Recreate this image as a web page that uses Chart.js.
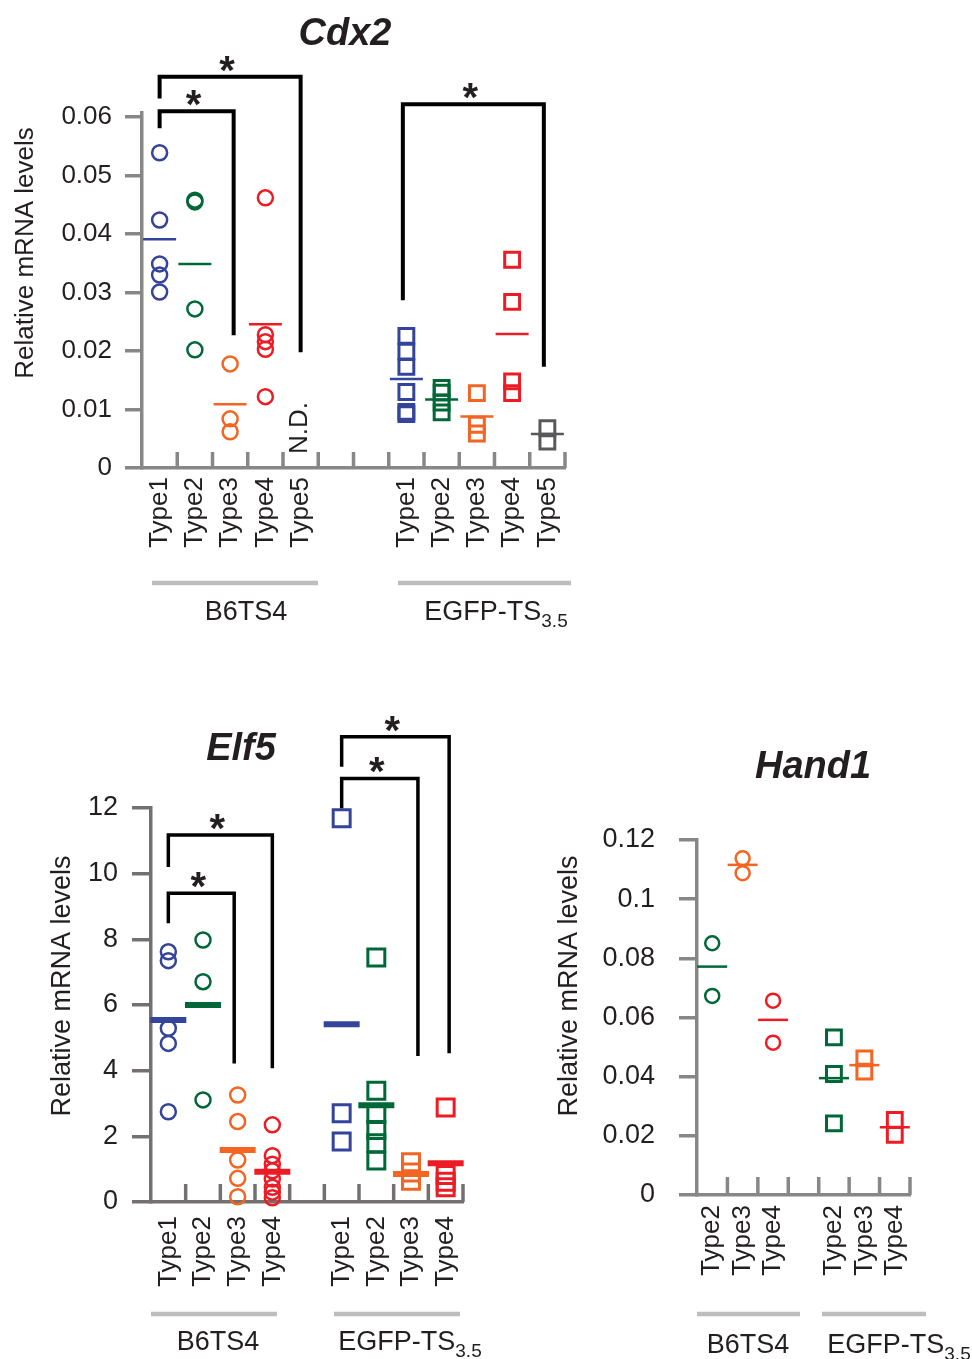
<!DOCTYPE html>
<html>
<head>
<meta charset="utf-8">
<script src="https://cdn.jsdelivr.net/npm/chart.js@4.4.1/dist/chart.umd.min.js"></script>
<style>
  html, body { margin: 0; padding: 0; background: #fff; }
  body { width: 972px; height: 1359px; position: relative; overflow: hidden; }
  canvas { position: absolute; }
  #cdx2 { left: 0; top: 0; }
  #elf5 { left: 0; top: 660px; }
  #hand1 { left: 520px; top: 660px; }
</style>
</head>
<body>
<canvas id="cdx2" width="972" height="660"></canvas>
<canvas id="elf5" width="520" height="699"></canvas>
<canvas id="hand1" width="452" height="699"></canvas>
<script>
const TEXT = '#231f20';
const FONT = "'Liberation Sans', Arial, Helvetica, sans-serif";
Chart.defaults.font.family = FONT;
Chart.defaults.color = TEXT;

const typeColors = { Type1: '#33449a', Type2: '#006838', Type3: '#f26522', Type4: '#ed1c24', Type5: '#58595b' };
const groupNames = ['B6TS4', 'EGFP-TS'];
const groupSubs = ['', '3.5'];
const yTitle = 'Relative mRNA levels';

// Cdx2
const cdx2Slots = ['Type1', 'Type2', 'Type3', 'Type4', 'Type5', '', '', 'Type1', 'Type2', 'Type3', 'Type4', 'Type5'];
const cdx2GroupStart = [0, 7];
const cdx2YTicks = [0, 0.01, 0.02, 0.03, 0.04, 0.05, 0.06];
const cdx2B6 = [
  [0.0539, 0.0424, 0.0349, 0.0330, 0.0301],
  [0.0458, 0.0455, 0.0272, 0.0202],
  [0.0178, 0.0084, 0.0062],
  [0.0462, 0.0228, 0.0216, 0.0203, 0.0122],
  []
];
const cdx2B6Means = [0.0391, 0.0349, 0.0109, 0.0246, null];
const cdx2Egfp = [
  [0.0226, 0.0199, 0.0173, 0.0130, 0.0096, 0.0092],
  [0.0137, 0.0129, 0.0112, 0.0095],
  [0.0128, 0.0074, 0.0059],
  [0.0356, 0.0284, 0.0148, 0.0128],
  [0.0068, 0.0045]
];
const cdx2EgfpMeans = [0.0152, 0.0117, 0.0088, 0.0229, 0.0058];
// [left slot, right slot, top, left end, right end]
const cdx2Brackets = [[0, 4, 0.0669, 0.0632, 0.0198], [0, 2.1, 0.0610, 0.0581, 0.0227], [6.9, 10.9, 0.0622, 0.0287, 0.0173]];

// Elf5
const elf5Slots = ['Type1', 'Type2', 'Type3', 'Type4', '', 'Type1', 'Type2', 'Type3', 'Type4'];
const elf5GroupStart = [0, 5];
const elf5YTicks = [0, 2, 4, 6, 8, 10, 12];
const elf5B6 = [
  [7.62, 7.35, 5.29, 4.83, 2.75],
  [7.98, 6.71, 3.11],
  [3.26, 2.45, 1.28, 0.72, 0.16],
  [2.35, 1.41, 1.15, 0.95, 0.70, 0.45, 0.30, 0.13]
];
const elf5B6Means = [5.54, 6.0, 1.58, 0.92];
const elf5Egfp = [
  [11.69, 2.70, 1.84],
  [7.45, 3.39, 2.68, 2.19, 1.79, 1.26],
  [1.21, 0.90, 0.65],
  [2.88, 0.82, 0.62, 0.45]
];
const elf5EgfpMeans = [5.41, 2.95, 0.85, 1.18];
const elf5Brackets = [[0, 3, 11.18, 10.2, 4.07], [0, 1.9, 9.40, 8.49, 4.22], [5, 8.1, 14.17, 13.26, 4.53], [5, 7.2, 12.9, 11.99, 4.45]];

// Hand1
const hand1Slots = ['Type2', 'Type3', 'Type4', '', 'Type2', 'Type3', 'Type4'];
const hand1GroupStart = [0, 4];
const hand1YTicks = [0, 0.02, 0.04, 0.06, 0.08, 0.1, 0.12];
const hand1B6 = [[0.0851, 0.0673], [0.1138, 0.1088], [0.0657, 0.0515]];
const hand1B6Means = [0.0772, 0.1116, 0.0592];
const hand1Egfp = [[0.0533, 0.0409, 0.0242], [0.0462, 0.0417], [0.0254, 0.0203]];
const hand1EgfpMeans = [0.0395, 0.0439, 0.0229];

// one scatter set per type plus one short line for its mean
function seriesFor(values, means, start, slots, look) {
  const sets = [];
  values.forEach((vals, i) => {
    const color = typeColors[slots[start + i]];
    sets.push({
      data: vals.map(v => ({ x: start + i, y: v })),
      pointStyle: look.style, pointRadius: look.radius, pointBorderWidth: look.border,
      pointBorderColor: color, pointBackgroundColor: 'rgba(0,0,0,0)', clip: false
    });
    if (means[i] !== null) {
      sets.push({
        data: [{ x: start + i, y: means[i] }],
        pointStyle: 'line', pointRadius: look.meanRadius, pointBorderWidth: look.meanWidth,
        pointBorderColor: color, clip: false
      });
    }
  });
  return sets;
}

const figures = {};

const figurePlugin = {
  id: 'figure',
  afterDraw(chart) {
    const o = figures[chart.canvas.id];
    const { ctx, chartArea: area, scales: { x, y } } = chart;
    ctx.save();

    // tick marks between categories, pointing up into the plot
    ctx.strokeStyle = o.axisColor;
    ctx.lineWidth = 3.5;
    for (let i = 0; i < o.slotCount; i++) {
      const px = x.getPixelForValue(i + 0.5);
      ctx.beginPath();
      ctx.moveTo(px, area.bottom);
      ctx.lineTo(px, area.bottom - o.tickLength);
      ctx.stroke();
    }

    // significance brackets
    ctx.strokeStyle = '#000';
    ctx.lineWidth = o.bracketWidth;
    ctx.lineJoin = 'miter';
    ctx.fillStyle = TEXT;
    ctx.textAlign = 'center';
    ctx.textBaseline = 'alphabetic';
    o.brackets.forEach(([a, b, top, endA, endB]) => {
      const xa = x.getPixelForValue(a), xb = x.getPixelForValue(b);
      const yt = y.getPixelForValue(top);
      ctx.beginPath();
      ctx.moveTo(xa, y.getPixelForValue(endA));
      ctx.lineTo(xa, yt);
      ctx.lineTo(xb, yt);
      ctx.lineTo(xb, y.getPixelForValue(endB));
      ctx.stroke();
      ctx.font = `bold 40px ${FONT}`;
      ctx.fillText('*', (xa + xb) / 2 - 3, yt + 7);
    });

    // gene title
    ctx.font = `italic bold 38px ${FONT}`;
    ctx.fillText(o.title.text, o.title.x, o.title.y);

    // y axis title
    ctx.save();
    ctx.translate(o.yTitle.x, o.yTitle.y);
    ctx.rotate(-Math.PI / 2);
    ctx.font = `${o.yTitle.size}px ${FONT}`;
    ctx.fillText(yTitle, 0, 0);
    ctx.restore();

    // rotated notes
    (o.notes || []).forEach(n => {
      ctx.save();
      ctx.translate(n.x, n.y);
      ctx.rotate(-Math.PI / 2);
      ctx.font = `26px ${FONT}`;
      ctx.fillText(n.text, 0, 0);
      ctx.restore();
    });

    // group bars and names
    o.groups.forEach((g, i) => {
      ctx.strokeStyle = '#bdbdbd';
      ctx.lineWidth = 4.5;
      ctx.beginPath();
      ctx.moveTo(g.x1, g.y);
      ctx.lineTo(g.x2, g.y);
      ctx.stroke();
      ctx.font = `27px ${FONT}`;
      const w1 = ctx.measureText(groupNames[i]).width;
      let w2 = 0;
      if (groupSubs[i]) {
        ctx.font = `19px ${FONT}`;
        w2 = ctx.measureText(groupSubs[i]).width;
      }
      const start = g.cx - (w1 + w2) / 2;
      ctx.textAlign = 'left';
      ctx.font = `27px ${FONT}`;
      ctx.fillText(groupNames[i], start, g.ty);
      if (groupSubs[i]) {
        ctx.font = `19px ${FONT}`;
        ctx.fillText(groupSubs[i], start + w1, g.ty + 7);
      }
      ctx.textAlign = 'center';
    });
    ctx.restore();
  }
};

function buildChart(id, p) {
  figures[id] = p.figure;
  return new Chart(document.getElementById(id), {
    type: 'scatter',
    data: { datasets: p.datasets },
    options: {
      responsive: false,
      animation: false,
      events: [],
      layout: { padding: { top: p.top, right: p.right, left: 0, bottom: 0 } },
      plugins: { legend: { display: false }, tooltip: { enabled: false } },
      scales: {
        x: {
          type: 'linear',
          min: -0.5,
          max: p.slots.length - 0.5,
          afterBuildTicks: axis => { axis.ticks = p.slots.map((_, i) => ({ value: i })); },
          afterFit: axis => { axis.height = p.xHeight; },
          ticks: {
            callback: v => p.slots[v],
            autoSkip: false, minRotation: 90, maxRotation: 90,
            font: { size: 26 }, color: TEXT, padding: p.xPad
          },
          grid: { display: true, drawOnChartArea: false, drawTicks: false },
          border: { display: true, color: p.figure.axisColor, width: 3.5 }
        },
        y: {
          min: 0,
          max: p.yMax,
          afterBuildTicks: axis => { axis.ticks = p.yTicks.map(v => ({ value: v })); },
          afterFit: axis => { axis.width = p.yWidth; },
          ticks: { callback: v => String(v), font: { size: p.yFont }, color: TEXT, padding: p.yPad },
          grid: { drawOnChartArea: false, drawTicks: true, tickLength: p.yTick, color: p.figure.axisColor, lineWidth: 3.5 },
          border: { display: true, color: p.figure.axisColor, width: 3.5 }
        }
      }
    },
    plugins: [figurePlugin]
  });
}

buildChart('cdx2', {
  slots: cdx2Slots,
  datasets: [
    ...seriesFor(cdx2B6, cdx2B6Means, cdx2GroupStart[0], cdx2Slots,
      { style: 'circle', radius: 7.5, border: 2.5, meanRadius: 16.5, meanWidth: 2.5 }),
    ...seriesFor(cdx2Egfp, cdx2EgfpMeans, cdx2GroupStart[1], cdx2Slots,
      { style: 'rect', radius: 10.5, border: 3, meanRadius: 16.5, meanWidth: 2.5 })
  ],
  top: 113, right: 407, yWidth: 142, xHeight: 192,
  yMax: 0.0607, yTicks: cdx2YTicks, yFont: 26, yPad: 13, yTick: 17, xPad: 9,
  figure: {
    axisColor: '#878787', slotCount: cdx2Slots.length, tickLength: 16, bracketWidth: 4,
    brackets: cdx2Brackets,
    title: { text: 'Cdx2', x: 345, y: 45 },
    yTitle: { x: 33, y: 253, size: 26 },
    notes: [{ text: 'N.D.', x: 307, y: 428 }],
    groups: [
      { x1: 152, x2: 318, y: 583, cx: 246, ty: 620 },
      { x1: 398, x2: 571, y: 583, cx: 496, ty: 620 }
    ]
  }
});

buildChart('elf5', {
  slots: elf5Slots,
  datasets: [
    ...seriesFor(elf5B6, elf5B6Means, elf5GroupStart[0], elf5Slots,
      { style: 'circle', radius: 7.5, border: 2.5, meanRadius: 18, meanWidth: 6 }),
    ...seriesFor(elf5Egfp, elf5EgfpMeans, elf5GroupStart[1], elf5Slots,
      { style: 'rect', radius: 12, border: 3, meanRadius: 18, meanWidth: 6 })
  ],
  top: 148, right: 57, yWidth: 151, xHeight: 157,
  yMax: 12, yTicks: elf5YTicks, yFont: 27, yPad: 14, yTick: 19, xPad: 14,
  figure: {
    axisColor: '#747070', slotCount: elf5Slots.length, tickLength: 18, bracketWidth: 3.5,
    brackets: elf5Brackets,
    title: { text: 'Elf5', x: 241, y: 100 },
    yTitle: { x: 70, y: 326, size: 27 },
    groups: [
      { x1: 151, x2: 277, y: 654, cx: 218, ty: 690 },
      { x1: 334, x2: 460, y: 654, cx: 410, ty: 690 }
    ]
  }
});

buildChart('hand1', {
  slots: hand1Slots,
  datasets: [
    ...seriesFor(hand1B6, hand1B6Means, hand1GroupStart[0], hand1Slots,
      { style: 'circle', radius: 7, border: 2.5, meanRadius: 15, meanWidth: 2.5 }),
    ...seriesFor(hand1Egfp, hand1EgfpMeans, hand1GroupStart[1], hand1Slots,
      { style: 'rect', radius: 10.5, border: 3, meanRadius: 15, meanWidth: 2.5 })
  ],
  top: 180, right: 62, yWidth: 177, xHeight: 164,
  yMax: 0.12, yTicks: hand1YTicks, yFont: 27, yPad: 24, yTick: 18, xPad: 10,
  figure: {
    axisColor: '#878787', slotCount: hand1Slots.length, tickLength: 18, bracketWidth: 4,
    brackets: [],
    title: { text: 'Hand1', x: 293, y: 118 },
    yTitle: { x: 57, y: 326, size: 27 },
    groups: [
      { x1: 177, x2: 280, y: 654, cx: 228, ty: 693 },
      { x1: 302, x2: 406, y: 654, cx: 379, ty: 693 }
    ]
  }
});
</script>
</body>
</html>
